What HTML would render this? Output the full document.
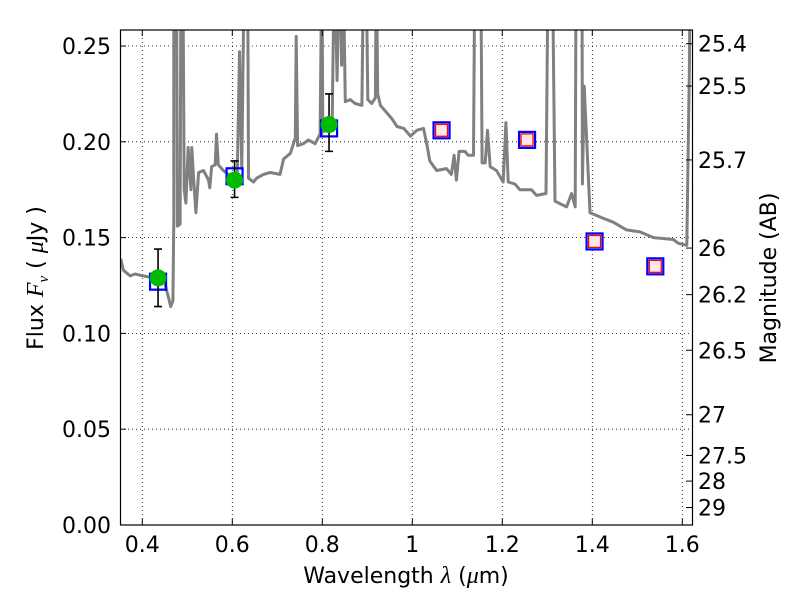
<!DOCTYPE html>
<html><head><meta charset="utf-8"><style>
body{margin:0;background:#fff}
svg text{font-family:"DejaVu Sans","Liberation Sans",sans-serif;fill:#000}
</style></head><body>
<svg id="chart" width="800" height="600" xmlns="http://www.w3.org/2000/svg">
<defs><clipPath id="clip"><rect x="120.5" y="30" width="572" height="495"/></clipPath></defs>
<rect x="0" y="0" width="800" height="600" fill="#fff"/>
<g id="grid"></g>
<g id="spec" clip-path="url(#clip)"></g>
<g id="marks" clip-path="url(#clip)"></g>
<rect x="120.5" y="30" width="572" height="495" fill="none" stroke="#000" stroke-width="1.2"/>
<g id="axes"></g>
<text x="406" y="583" font-size="22" text-anchor="middle">Wavelength  <tspan font-family="Liberation Serif" font-style="italic" font-size="24">λ</tspan> (<tspan font-family="Liberation Serif" font-style="italic" font-size="24">μ</tspan>m)</text>
<text transform="translate(43,278) rotate(-90)" font-size="22" text-anchor="middle">Flux  <tspan font-family="Liberation Serif" font-style="italic" font-size="24">F<tspan font-size="15" dy="5">ν</tspan></tspan><tspan dy="-5">  ( </tspan><tspan font-family="Liberation Serif" font-style="italic" font-size="24">μ</tspan>Jy )</text>
<text transform="translate(776,278) rotate(-90)" font-size="22" text-anchor="middle">Magnitude (AB)</text>
</svg>
<script>
const xTicks=[0.4,0.6,0.8,1.0,1.2,1.4,1.6];
const xTickLabels=["0.4","0.6","0.8","1","1.2","1.4","1.6"];
const yTicks=[0,0.05,0.10,0.15,0.20,0.25];
const yTickLabels=["0.00","0.05","0.10","0.15","0.20","0.25"];
const magTicks=[25.4,25.5,25.7,26,26.2,26.5,27,27.5,28,29];
const magTickLabels=["25.4","25.5","25.7","26","26.2","26.5","27","27.5","28","29"];
const specX=[0.352,0.358,0.373,0.384,0.402,0.424,0.450,0.458,0.463,0.468,0.470,0.470,0.476,0.478,0.484,0.486,0.490,0.493,0.497,0.502,0.508,0.510,0.514,0.519,0.525,0.536,0.547,0.550,0.554,0.562,0.565,0.569,0.580,0.591,0.602,0.611,0.616,0.621,0.627,0.634,0.636,0.647,0.654,0.669,0.684,0.706,0.714,0.729,0.740,0.742,0.745,0.758,0.769,0.784,0.795,0.799,0.801,0.810,0.822,0.827,0.833,0.838,0.843,0.846,0.851,0.862,0.873,0.888,0.892,0.897,0.901,0.910,0.918,0.920,0.923,0.929,0.944,0.955,0.966,0.981,0.996,1.010,1.025,1.033,1.039,1.054,1.076,1.087,1.093,1.098,1.104,1.117,1.124,1.136,1.139,1.152,1.155,1.162,1.167,1.173,1.187,1.202,1.208,1.213,1.228,1.239,1.265,1.276,1.297,1.302,1.311,1.317,1.343,1.354,1.362,1.364,1.377,1.378,1.382,1.395,1.425,1.447,1.476,1.506,1.536,1.580,1.591,1.610,1.616,1.617];
const specY=[0.139,0.133,0.130,0.131,0.130,0.129,0.126,0.119,0.114,0.117,0.159,0.30,0.30,0.156,0.157,0.30,0.30,0.175,0.168,0.197,0.175,0.197,0.181,0.163,0.184,0.185,0.180,0.176,0.187,0.188,0.204,0.188,0.185,0.183,0.182,0.183,0.247,0.186,0.30,0.30,0.181,0.179,0.181,0.183,0.184,0.183,0.191,0.194,0.202,0.255,0.198,0.199,0.201,0.199,0.204,0.30,0.205,0.207,0.210,0.30,0.232,0.30,0.240,0.30,0.221,0.222,0.220,0.219,0.30,0.30,0.222,0.220,0.223,0.30,0.225,0.219,0.215,0.212,0.208,0.207,0.203,0.206,0.207,0.198,0.190,0.185,0.186,0.183,0.193,0.180,0.195,0.195,0.193,0.193,0.30,0.30,0.189,0.189,0.206,0.187,0.185,0.179,0.210,0.179,0.178,0.175,0.175,0.172,0.173,0.30,0.30,0.169,0.166,0.173,0.166,0.30,0.30,0.178,0.229,0.163,0.160,0.158,0.154,0.153,0.150,0.149,0.147,0.146,0.243,0.30];
const obsX=[0.435,0.605,0.815];
const obsY=[0.129,0.180,0.209];
const obsErrLo=[0.114,0.171,0.195];
const obsErrHi=[0.144,0.190,0.225];
const modelX=[0.435,0.605,0.815,1.065,1.255,1.405,1.540];
const modelY=[0.127,0.182,0.207,0.206,0.201,0.148,0.135];
const predX=[1.065,1.255,1.405,1.540];
const predY=[0.206,0.201,0.148,0.135];

const X=v=>142.3+(v-0.4)*450;
const Y=v=>525-v*1916;
const NS="http://www.w3.org/2000/svg";
function mk(parent,tag,attrs){const e=document.createElementNS(NS,tag);for(const k in attrs)e.setAttribute(k,attrs[k]);parent.appendChild(e);return e;}
const grid=document.getElementById('grid'),axes=document.getElementById('axes'),spec=document.getElementById('spec'),marks=document.getElementById('marks');

xTicks.forEach((t,i)=>{const x=X(t);
 const g=mk(grid,'line',{x1:x,x2:x,y1:30,y2:525,stroke:'#000','stroke-width':0.8,'stroke-dasharray':'1,3'});
 
 
 mk(axes,'line',{x1:x,x2:x,y1:525,y2:519,stroke:'#000','stroke-width':1});
 mk(axes,'line',{x1:x,x2:x,y1:30,y2:36,stroke:'#000','stroke-width':1});
 const tx=mk(axes,'text',{x:x,y:552,'font-size':22,'text-anchor':'middle'});tx.textContent=xTickLabels[i];
 
 
});
yTicks.forEach((t,i)=>{const y=Y(t);
 const g=mk(grid,'line',{x1:120,x2:692,y1:y,y2:y,stroke:'#000','stroke-width':0.8,'stroke-dasharray':'1,3'});
 
 
 mk(axes,'line',{x1:120,x2:126,y1:y,y2:y,stroke:'#000','stroke-width':1});
 const tx=mk(axes,'text',{x:111,y:y+8,'font-size':22,'text-anchor':'end'});tx.textContent=yTickLabels[i];
 
 
});
magTicks.forEach((m,i)=>{const f=Math.pow(10,(23.9-m)/2.5);const y=Y(f);
 mk(axes,'line',{x1:692,x2:686,y1:y,y2:y,stroke:'#000','stroke-width':1});
 const tx=mk(axes,'text',{x:698,y:y+8,'font-size':22,'text-anchor':'start'});tx.textContent=magTickLabels[i];
 
 
});
const pts=specX.map((x,i)=>X(x).toFixed(1)+','+Y(specY[i]).toFixed(1)).join(' ');
const pl=mk(spec,'polyline',{points:pts,fill:'none',stroke:'#808080','stroke-width':3,'stroke-linejoin':'round'});


modelX.forEach((x,i)=>{const r=mk(marks,'rect',{x:X(x)-8,y:Y(modelY[i])-8,width:16,height:16,fill:'none',stroke:'#0000ff','stroke-width':2.2});
 
 });
predX.forEach((x,i)=>{const r=mk(marks,'rect',{x:X(x)-6,y:Y(predY[i])-6,width:12,height:12,fill:'#fde8e8',stroke:'#ff0000','stroke-width':1.3});
 
 });
obsX.forEach((x,i)=>{const cx=X(x);
 const e=mk(marks,'path',{d:`M${cx},${Y(obsErrLo[i])}V${Y(obsErrHi[i])}M${cx-4},${Y(obsErrLo[i])}h8M${cx-4},${Y(obsErrHi[i])}h8`,stroke:'#000','stroke-width':1.6,fill:'none'});
 
 
 const c=mk(marks,'circle',{cx:cx,cy:Y(obsY[i]),r:8.5,fill:'#00bb00'});
 
 
});
</script>
</body></html>
